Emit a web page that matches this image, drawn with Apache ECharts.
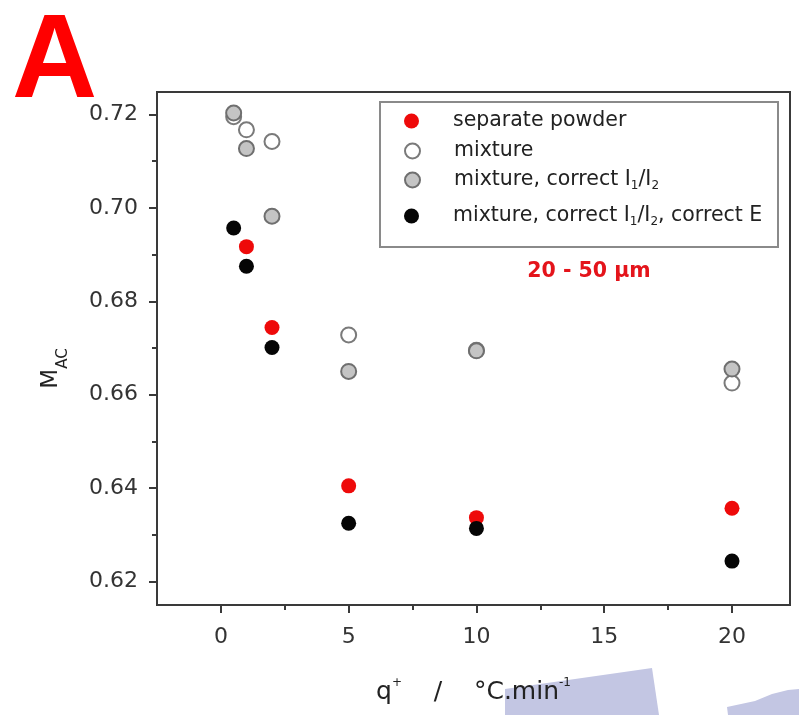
<!DOCTYPE html>
<html>
<head>
<meta charset="utf-8">
<title>M_AC vs heating rate</title>
<script src="https://cdn.jsdelivr.net/npm/echarts@6/dist/echarts.min.js"></script>
<style>
  html, body { margin: 0; padding: 0; background: #fff; }
  #chart { width: 799px; height: 715px; }
</style>
</head>
<body>
<div id="chart"></div>
<script>
// Heating rates (°C/min) and measured M_AC values per sample preparation
const rates = [0.5, 1, 2, 5, 10, 20];
const separatePowder = [null, 0.6917, 0.6744, 0.6405, 0.6337, 0.6357];
const mixture = [0.7195, 0.7167, 0.7142, 0.6728, 0.6695, 0.6625];
const mixtureCorrI = [0.7203, 0.7127, 0.6982, 0.6650, 0.6694, 0.6655];
const mixtureCorrIE = [0.6957, 0.6875, 0.6701, 0.6325, 0.6314, 0.6244];

const xMajorTicks = [0, 5, 10, 15, 20];
const xMinorTicks = [2.5, 7.5, 12.5, 17.5];
const yMajorTicks = [0.62, 0.64, 0.66, 0.68, 0.70, 0.72];
const yMinorTicks = [0.63, 0.65, 0.67, 0.69, 0.71];

const seriesNames = [
  'separate powder',
  'mixture',
  'mixture, correct I1/I2',
  'mixture, correct I1/I2, correct E'
];
const legendLabels = {
  'separate powder': '{g| }{t|separate powder}',
  'mixture': '{g| }{t|mixture}',
  'mixture, correct I1/I2': '{g| }{t|mixture, correct I}{s|1}{t|/I}{s|2}',
  'mixture, correct I1/I2, correct E': '{g| }{t|mixture, correct I}{s|1}{t|/I}{s|2}{t|, correct E}'
};

const FONT = 'DejaVu Sans';
const X_MIN = -2.5, X_MAX = 22.27;
const Y_MIN = 0.615, Y_MAX = 0.7248;

function pairs(values) {
  const out = [];
  values.forEach((v, i) => { if (v !== null) out.push([rates[i], v]); });
  return out;
}

const markerSize = 15;
const styles = [
  { color: '#ee0a0a', borderColor: '#d00000', borderWidth: 0, opacity: 1 },
  { color: '#ffffff', borderColor: '#7a7a7a', borderWidth: 2, opacity: 1 },
  { color: '#c4c4c4', borderColor: '#6f6f6f', borderWidth: 2, opacity: 1 },
  { color: '#050505', borderColor: '#000000', borderWidth: 0, opacity: 1 }
];
const dataSets = [separatePowder, mixture, mixtureCorrI, mixtureCorrIE];

const series = seriesNames.map((name, i) => ({
  name: name,
  type: 'scatter',
  xAxisIndex: 0,
  yAxisIndex: 0,
  symbol: 'circle',
  symbolSize: markerSize,
  itemStyle: styles[i],
  data: pairs(dataSets[i]),
  z: 2 + i
}));

// One legend per row so each row can sit at its own height
const legendRowCenters = [121, 151, 180, 216];
const legendRich = {
  g: { width: 29, fontSize: 20, lineHeight: 24 },
  t: { fontSize: 20.5, lineHeight: 24, color: '#222', fontFamily: FONT },
  s: { fontSize: 12, lineHeight: 12, verticalAlign: 'bottom', color: '#222', fontFamily: FONT }
};
const legends = seriesNames.map((name, i) => ({
  data: [name],
  left: 404,
  top: legendRowCenters[i] - 12,
  padding: 0,
  itemWidth: 15,
  itemHeight: 15,
  selectedMode: false,
  formatter: (n) => legendLabels[n],
  textStyle: { fontFamily: FONT, fontSize: 20, color: '#222', lineHeight: 24, rich: legendRich }
}));

const axisColor = '#3a3a3a';

const option = {
  animation: false,
  backgroundColor: '#ffffff',
  grid: {
    left: 157, top: 92, width: 633, height: 513,
    show: true, borderColor: axisColor, borderWidth: 2, backgroundColor: 'transparent'
  },
  legend: legends,
  xAxis: [
    {
      type: 'value', min: X_MIN, max: X_MAX,
      axisLine: { show: true, onZero: false, lineStyle: { color: axisColor, width: 2 } },
      axisTick: { show: true, customValues: xMajorTicks, length: 8, lineStyle: { color: axisColor, width: 2 } },
      axisLabel: { customValues: xMajorTicks, fontFamily: FONT, fontSize: 22, color: '#333', margin: 21 },
      splitLine: { show: false },
      name: '{t|q}{p|+}{t|    /    °C.min}{p|-1}',
      nameLocation: 'middle',
      nameGap: 72,
      nameTextStyle: {
        fontFamily: FONT, fontSize: 25, color: '#222',
        rich: {
          t: { fontFamily: FONT, fontSize: 25, lineHeight: 30, color: '#222' },
          p: { fontFamily: FONT, fontSize: 12, lineHeight: 12, verticalAlign: 'top', color: '#222' }
        }
      }
    },
    {
      type: 'value', min: X_MIN, max: X_MAX, position: 'bottom',
      axisLine: { show: false, onZero: false },
      axisTick: { show: true, customValues: xMinorTicks, length: 5, lineStyle: { color: axisColor, width: 2 } },
      axisLabel: { show: false },
      splitLine: { show: false }
    }
  ],
  yAxis: [
    {
      type: 'value', min: Y_MIN, max: Y_MAX,
      axisLine: { show: true, onZero: false, lineStyle: { color: axisColor, width: 2 } },
      axisTick: { show: true, customValues: yMajorTicks, length: 8, lineStyle: { color: axisColor, width: 2 } },
      axisLabel: {
        customValues: yMajorTicks, fontFamily: FONT, fontSize: 22, color: '#333', margin: 19,
        formatter: (v) => v.toFixed(2)
      },
      splitLine: { show: false },
      name: '{m|M}{s|AC}',
      nameLocation: 'middle',
      nameRotate: 90,
      nameGap: 86,
      nameTextStyle: {
        padding: [0, 40, 0, 0],
        rich: {
          m: { fontFamily: FONT, fontSize: 23, lineHeight: 40, color: '#222' },
          s: { fontFamily: FONT, fontSize: 15, lineHeight: 12, verticalAlign: 'bottom', color: '#222' }
        }
      }
    },
    {
      type: 'value', min: Y_MIN, max: Y_MAX, position: 'left',
      axisLine: { show: false, onZero: false },
      axisTick: { show: true, customValues: yMinorTicks, length: 5, lineStyle: { color: axisColor, width: 2 } },
      axisLabel: { show: false },
      splitLine: { show: false }
    }
  ],
  graphic: [
    {
      type: 'rect', z: 1, silent: true,
      shape: { x: 380, y: 102, width: 398, height: 145 },
      style: { fill: 'none', stroke: '#8a8a8a', lineWidth: 2 }
    },
    {
      type: 'text', silent: true, x: 589, y: 272,
      style: {
        text: '20 - 50 µm', fill: '#e4141b', fontFamily: FONT, fontWeight: 'bold', fontSize: 20.5,
        align: 'center', verticalAlign: 'middle'
      }
    },
    {
      type: 'text', silent: true, x: 12, y: 64,
      style: {
        text: 'A', fill: '#ff0000', fontFamily: 'Liberation Sans', fontWeight: 'bold', fontSize: 118,
        align: 'left', verticalAlign: 'middle'
      }
    },
    {
      type: 'polygon', z: -5, silent: true,
      shape: { points: [[505, 689], [652, 668], [659, 715], [505, 715]] },
      style: { fill: '#c3c6e3' }
    },
    {
      type: 'polygon', z: -5, silent: true,
      shape: { points: [[728, 715], [727, 707], [755, 701], [772, 694], [788, 690], [799, 689], [799, 715]] },
      style: { fill: '#c3c6e3' }
    }
  ],
  series: series
};

const chart = echarts.init(document.getElementById('chart'), null, { renderer: 'canvas' });
chart.setOption(option);
</script>
</body>
</html>
